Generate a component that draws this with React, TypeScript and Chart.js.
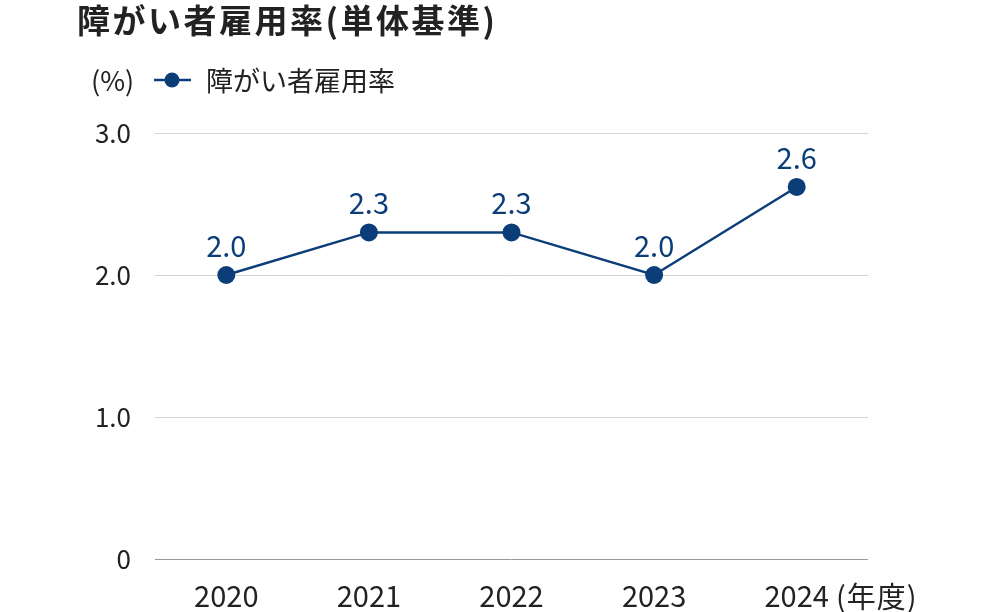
import React, { useEffect, useRef } from "react";
import { Chart, registerables } from "chart.js";

Chart.register(...registerables);

const TITLE = "障がい者雇用率(単体基準)";
const UNIT = "(%)";
const SERIES_NAME = "障がい者雇用率";
const YEAR_SUFFIX = "(年度)";
const categories = ["2020", "2021", "2022", "2023", "2024"];
const rates = [2.0, 2.3, 2.3, 2.0, 2.62];
const yTicks = [0, 1, 2, 3];

const FONT = '"Noto Sans CJK JP", "Noto Sans", sans-serif';
const NAVY = "#0b3d78";
const TEXT = "#222222";

const overlay = {
  id: "overlay",
  afterDatasetsDraw(chart: any) {
    const ctx = chart.ctx;
    const meta = chart.getDatasetMeta(0);
    ctx.save();
    ctx.fillStyle = NAVY;
    ctx.font = `29px ${FONT}`;
    ctx.textAlign = "center";
    ctx.textBaseline = "middle";
    meta.data.forEach((pt: any, i: number) => {
      ctx.fillText(rates[i].toFixed(1), pt.x, pt.y - 29);
    });
    ctx.restore();
  },
  afterDraw(chart: any) {
    const ctx = chart.ctx;
    ctx.save();
    // title
    ctx.fillStyle = TEXT;
    ctx.textBaseline = "middle";
    ctx.textAlign = "left";
    ctx.font = `bold 33px ${FONT}`;
    (ctx as any).letterSpacing = "2.5px";
    ctx.fillText(TITLE, 77, 20);
    (ctx as any).letterSpacing = "0px";
    // legend
    ctx.font = `27px ${FONT}`;
    ctx.fillText(UNIT, 91, 81);
    ctx.strokeStyle = NAVY;
    ctx.lineWidth = 2.5;
    ctx.beginPath();
    ctx.moveTo(154, 80);
    ctx.lineTo(191, 80);
    ctx.stroke();
    ctx.fillStyle = NAVY;
    ctx.beginPath();
    ctx.arc(172, 80, 7.5, 0, Math.PI * 2);
    ctx.fill();
    ctx.fillStyle = TEXT;
    ctx.font = `27px ${FONT}`;
    ctx.fillText(SERIES_NAME, 206, 81);
    // year suffix
    const xs = chart.scales.x;
    const lastX = xs.getPixelForValue(categories.length - 1);
    ctx.font = `29px ${FONT}`;
    const w = ctx.measureText(categories[categories.length - 1]).width;
    (ctx as any).letterSpacing = "1px";
    ctx.fillText(YEAR_SUFFIX, lastX + w / 2 + 7, 597);
    ctx.restore();
  },
};

export default function App() {
  const ref = useRef<HTMLCanvasElement | null>(null);
  useEffect(() => {
    if (!ref.current) return;
    const chart = new Chart(ref.current, {
      type: "line",
      data: {
        labels: categories,
        datasets: [
          {
            label: SERIES_NAME,
            data: rates,
            borderColor: NAVY,
            backgroundColor: NAVY,
            borderWidth: 2.5,
            pointRadius: 9,
            pointHoverRadius: 9,
            pointBackgroundColor: NAVY,
            pointBorderWidth: 0,
            tension: 0,
          },
        ],
      },
      options: {
        animation: false,
        responsive: true,
        maintainAspectRatio: false,
        layout: { padding: { left: 0, top: 133, right: 132, bottom: 0 } },
        plugins: {
          legend: { display: false },
          title: { display: false },
          tooltip: { enabled: false },
        },
        scales: {
          x: {
            offset: true,
            grid: { display: false, drawTicks: false },
            border: { display: false },
            ticks: {
              color: TEXT,
              font: { family: FONT, size: 29 },
              padding: 20,
            },
            afterFit(scale: any) {
              scale.height = 53;
            },
          },
          y: {
            min: 0,
            max: 3,
            afterBuildTicks(scale: any) {
              scale.ticks = yTicks.map((v) => ({ value: v }));
            },
            grid: {
              drawTicks: false,
              color: (c: any) => (c.tick && c.tick.value === 0 ? "#9a9a9a" : "#d4d4d4"),
              lineWidth: 1,
            },
            border: { display: false },
            ticks: {
              color: TEXT,
              font: { family: FONT, size: 26 },
              padding: 24,
              callback: (v: any) => (v === 0 ? "0" : Number(v).toFixed(1)),
            },
            afterFit(scale: any) {
              scale.width = 155;
            },
          },
        },
      },
      plugins: [overlay],
    });
    return () => chart.destroy();
  }, []);
  return (
    <div style={{ position: "absolute", left: 0, top: 0, width: 1000, height: 612, background: "#fff" }}>
      <canvas ref={ref} />
    </div>
  );
}
